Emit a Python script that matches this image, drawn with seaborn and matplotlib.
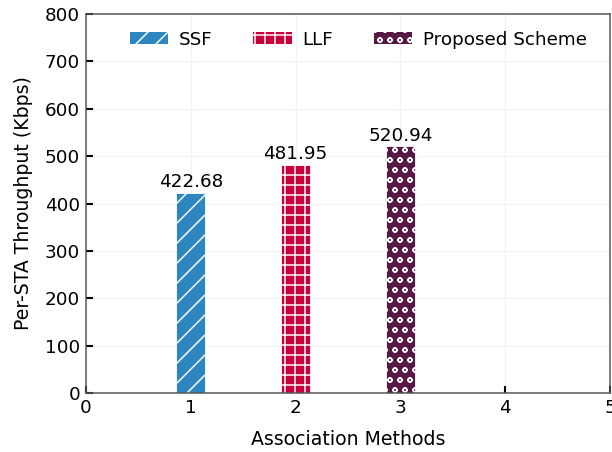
import matplotlib
matplotlib.use("Agg")
import matplotlib.pyplot as plt
import seaborn as sns
import pandas as pd

methods = ["SSF", "LLF", "Proposed Scheme"]
positions = [1, 2, 3]
throughput = [422.68, 481.95, 520.94]
colors = ["#2E86C1", "#C70039", "#581845"]
hatches = ["//", "++", "oo"]

DPI = 120
FS = 11  # base font size in points

sns.set_style("white")
plt.rcParams["font.family"] = ["DejaVu Sans"]
plt.rcParams["text.color"] = "black"
plt.rcParams["axes.labelcolor"] = "black"
plt.rcParams["xtick.color"] = "black"
plt.rcParams["ytick.color"] = "black"
plt.rcParams["hatch.color"] = "white"
plt.rcParams["hatch.linewidth"] = 0.9

df = pd.DataFrame({"pos": positions, "val": throughput, "method": methods})

fig = plt.figure(figsize=(612 / DPI, 452 / DPI), dpi=DPI)
ax = fig.add_axes([0.1405, 0.1305, 0.8562, 0.8385])

sns.barplot(data=df, x="pos", y="val", hue="method", palette=colors,
            native_scale=True, dodge=False, width=0.28, ax=ax,
            legend=False, saturation=1)

for bar, h, c in zip(ax.patches, hatches, colors):
    bar.set_hatch(h)
    bar.set_edgecolor("white")
    bar.set_facecolor(c)
    bar.set_linewidth(0.5)

for x, v in zip(positions, throughput):
    ax.text(x, v + 3, f"{v:.2f}", ha="center", va="bottom", fontsize=FS)

ax.set_xlim(0, 5)
ax.set_ylim(0, 800)
ax.set_xticks(range(0, 6))
ax.set_yticks(range(0, 801, 100))
ax.grid(True, color="#f2f2f2", linewidth=0.7)
ax.set_axisbelow(True)
ax.tick_params(direction="in", length=4, width=1.25, labelsize=FS,
               color="black", bottom=True, left=True)
for s in ax.spines.values():
    s.set_color("#555555")
    s.set_linewidth(0.9)
ax.set_xlabel("Association Methods", fontsize=FS * 1.03, labelpad=8)
ax.set_ylabel("Per-STA Throughput (Kbps)", fontsize=FS * 1.03, labelpad=7)

handles = [matplotlib.patches.Patch(facecolor=c, edgecolor="white", hatch=h, linewidth=0)
           for c, h in zip(colors, hatches)]
ax.legend(handles, methods, loc="upper center", ncol=3, frameon=False,
          fontsize=FS, handlelength=2.1, handleheight=0.6, handletextpad=0.6,
          columnspacing=2.2, bbox_to_anchor=(0.52, 1.0))

fig.savefig("out.png", dpi=DPI)
